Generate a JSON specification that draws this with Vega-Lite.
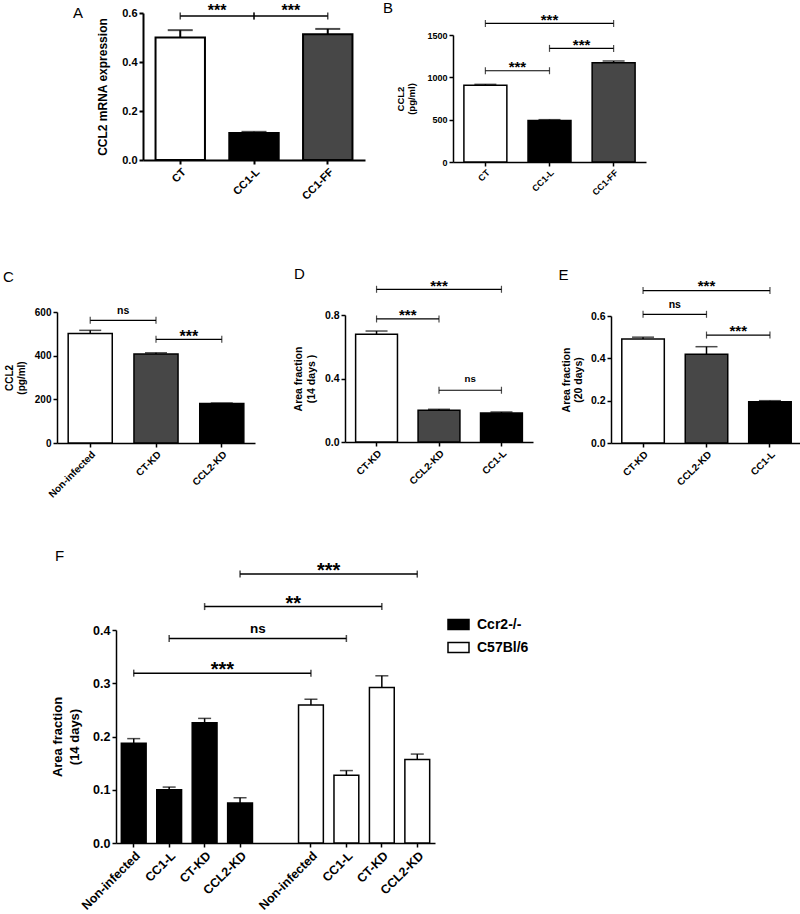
{
  "$schema": "https://vega.github.io/schema/vega-lite/v6.json",
  "padding": {"left": 3, "top": 0, "right": 0, "bottom": 0},
  "background": "white",
  "datasets": {
    "A": [
      {"cond": "CT", "mean": 0.5, "upper": 0.53},
      {"cond": "CC1-L", "mean": 0.11, "upper": 0.115},
      {"cond": "CC1-FF", "mean": 0.513, "upper": 0.535}
    ],
    "Asig": [
      {"from": "CT", "to": "CC1-L", "y": 0.588, "label": "***", "span": 1},
      {"from": "CC1-L", "to": "CC1-FF", "y": 0.588, "label": "***", "span": 1}
    ],
    "B": [
      {"cond": "CT", "mean": 907, "upper": 917},
      {"cond": "CC1-L", "mean": 490, "upper": 500},
      {"cond": "CC1-FF", "mean": 1173, "upper": 1193}
    ],
    "Bsig": [
      {"from": "CT", "to": "CC1-L", "y": 1078, "label": "***", "span": 1},
      {"from": "CC1-L", "to": "CC1-FF", "y": 1342, "label": "***", "span": 1},
      {"from": "CT", "to": "CC1-FF", "y": 1637, "label": "***", "span": 2}
    ],
    "C": [
      {"cond": "Non-infected", "mean": 502, "upper": 516},
      {"cond": "CT-KD", "mean": 408, "upper": 413},
      {"cond": "CCL2-KD", "mean": 181, "upper": 183}
    ],
    "Csig": [
      {"from": "Non-infected", "to": "CT-KD", "y": 562, "label": "ns", "span": 1},
      {"from": "CT-KD", "to": "CCL2-KD", "y": 475, "label": "***", "span": 1}
    ],
    "D": [
      {"cond": "CT-KD", "mean": 0.678, "upper": 0.699},
      {"cond": "CCL2-KD", "mean": 0.2, "upper": 0.206},
      {"cond": "CC1-L", "mean": 0.183, "upper": 0.189}
    ],
    "Dsig": [
      {"from": "CT-KD", "to": "CCL2-KD", "y": 0.775, "label": "***", "span": 1},
      {"from": "CCL2-KD", "to": "CC1-L", "y": 0.326, "label": "ns", "span": 1},
      {"from": "CT-KD", "to": "CC1-L", "y": 0.962, "label": "***", "span": 2}
    ],
    "E": [
      {"cond": "CT-KD", "mean": 0.491, "upper": 0.5},
      {"cond": "CCL2-KD", "mean": 0.419, "upper": 0.455},
      {"cond": "CC1-L", "mean": 0.195, "upper": 0.2}
    ],
    "Esig": [
      {"from": "CT-KD", "to": "CCL2-KD", "y": 0.608, "label": "ns", "span": 1},
      {"from": "CCL2-KD", "to": "CC1-L", "y": 0.51, "label": "***", "span": 1},
      {"from": "CT-KD", "to": "CC1-L", "y": 0.72, "label": "***", "span": 2}
    ],
    "F": [
      {"slot": "Ccr2-/-|Non-infected", "strain": "Ccr2-/-", "mean": 0.1875, "upper": 0.196},
      {"slot": "Ccr2-/-|CC1-L", "strain": "Ccr2-/-", "mean": 0.1, "upper": 0.105},
      {"slot": "Ccr2-/-|CT-KD", "strain": "Ccr2-/-", "mean": 0.2257, "upper": 0.234},
      {"slot": "Ccr2-/-|CCL2-KD", "strain": "Ccr2-/-", "mean": 0.0752, "upper": 0.085},
      {"slot": "C57Bl/6|Non-infected", "strain": "C57Bl/6", "mean": 0.259, "upper": 0.27},
      {"slot": "C57Bl/6|CC1-L", "strain": "C57Bl/6", "mean": 0.127, "upper": 0.136},
      {"slot": "C57Bl/6|CT-KD", "strain": "C57Bl/6", "mean": 0.292, "upper": 0.314},
      {"slot": "C57Bl/6|CCL2-KD", "strain": "C57Bl/6", "mean": 0.157, "upper": 0.167}
    ],
    "Fsig": [
      {"from": "Ccr2-/-|Non-infected", "to": "C57Bl/6|Non-infected", "y": 0.319, "label": "***", "span": 5},
      {"from": "Ccr2-/-|CC1-L", "to": "C57Bl/6|CC1-L", "y": 0.384, "label": "ns", "span": 5},
      {"from": "Ccr2-/-|CT-KD", "to": "C57Bl/6|CT-KD", "y": 0.444, "label": "**", "span": 5},
      {"from": "Ccr2-/-|CCL2-KD", "to": "C57Bl/6|CCL2-KD", "y": 0.505, "label": "***", "span": 5}
    ]
  },
  "bounds": "full",
  "align": "none",
  "spacing": 0,
  "resolve": {"scale": {"fill": "independent"}},
  "vconcat": [
    {
      "bounds": "flush",
      "spacing": 0,
      "resolve": {"scale": {"fill": "independent"}},
      "hconcat": [
        {"width": 86, "height": 1, "data": {"values": []}, "mark": "point", "encoding": {}},
        {
          "width": 222, "height": 147,
          "title": {"text": "A", "anchor": "start", "frame": "group", "offset": 0, "dx": -70, "dy": 30.4, "fontSize": 15, "baseline": "alphabetic"},
          "layer": [
            {"data": {"name": "A"}, "mark": {"type": "bar", "stroke": "black", "strokeWidth": 2},
             "encoding": {
               "x": {"field": "cond", "type": "nominal", "sort": null, "scale": {"domain": ["CT", "CC1-L", "CC1-FF"], "paddingInner": 0.33, "paddingOuter": 0.17}, "axis": {"title": null, "labelFontSize": 11, "labelAngle": -45, "domainWidth": 2, "tickWidth": 2}},
               "y": {"field": "mean", "type": "quantitative", "scale": {"domain": [0, 0.6], "nice": false}, "axis": {"title": "CCL2 mRNA expression", "values": [0, 0.2, 0.4, 0.6], "format": ".1f", "labelFontSize": 11, "titleFontSize": 12, "titlePadding": 12, "domainWidth": 2, "tickWidth": 2}},
               "fill": {"field": "cond", "type": "nominal", "scale": {"domain": ["CT", "CC1-L", "CC1-FF"], "range": ["white", "black", "#474747"]}, "legend": null}
             }},
            {"data": {"name": "A"}, "mark": {"type": "rule", "color": "black", "strokeWidth": 2},
             "encoding": {"x": {"field": "cond", "type": "nominal"}, "y": {"field": "mean", "type": "quantitative", "scale": {"domain": [0, 0.6], "nice": false}}, "y2": {"field": "upper"}}},
            {"data": {"name": "A"}, "mark": {"type": "tick", "color": "black", "thickness": 2, "size": 25, "orient": "horizontal"},
             "encoding": {"x": {"field": "cond", "type": "nominal"}, "y": {"field": "upper", "type": "quantitative", "scale": {"domain": [0, 0.6], "nice": false}}}},
            {"data": {"name": "Asig"}, "mark": {"type": "rule", "color": "black", "strokeWidth": 1.5},
             "encoding": {"x": {"field": "from", "type": "nominal", "bandPosition": 0.5}, "x2": {"field": "to", "bandPosition": 0.5}, "y": {"field": "y", "type": "quantitative", "scale": {"domain": [0, 0.6], "nice": false}}}},
            {"data": {"name": "Asig"}, "mark": {"type": "tick", "color": "black", "thickness": 1.5, "size": 7, "orient": "vertical"},
             "encoding": {"x": {"field": "from", "type": "nominal"}, "y": {"field": "y", "type": "quantitative", "scale": {"domain": [0, 0.6], "nice": false}}}},
            {"data": {"name": "Asig"}, "mark": {"type": "tick", "color": "black", "thickness": 1.5, "size": 7, "orient": "vertical"},
             "encoding": {"x": {"field": "to", "type": "nominal"}, "y": {"field": "y", "type": "quantitative", "scale": {"domain": [0, 0.6], "nice": false}}}},
            {"data": {"name": "Asig"}, "transform": [{"filter": "datum.span == 1"}], "mark": {"type": "text", "fontWeight": "bold", "fontSize": 16, "baseline": "alphabetic", "dy": 0},
             "encoding": {"x": {"field": "from", "type": "nominal", "bandPosition": 1.246}, "y": {"field": "y", "type": "quantitative", "scale": {"domain": [0, 0.6], "nice": false}}, "text": {"field": "label"}}}
          ]
        },
        {"width": 88, "height": 1, "data": {"values": []}, "mark": "point", "encoding": {}},
        {
          "bounds": "flush",
          "spacing": 0,
          "vconcat": [
            {"width": 193, "height": 22, "data": {"values": []}, "mark": "point", "encoding": {}},
            {
              "width": 193, "height": 127,
              "title": {"text": "B", "anchor": "start", "frame": "group", "offset": 0, "dx": -70, "dy": 14.7, "fontSize": 15, "baseline": "alphabetic"},
              "layer": [
                {"data": {"name": "B"}, "mark": {"type": "bar", "stroke": "black", "strokeWidth": 1.5},
                 "encoding": {
                   "x": {"field": "cond", "type": "nominal", "sort": null, "scale": {"domain": ["CT", "CC1-L", "CC1-FF"], "paddingInner": 0.33, "paddingOuter": 0.17}, "axis": {"title": null, "labelFontSize": 9, "labelAngle": -45}},
                   "y": {"field": "mean", "type": "quantitative", "scale": {"domain": [0, 1500], "nice": false}, "axis": {"title": ["CCL2", "(pg/ml)"], "values": [0, 500, 1000, 1500], "format": "d", "labelFontSize": 9, "titleFontSize": 9.5, "titleLineHeight": 11.5, "titlePadding": 10}},
                   "fill": {"field": "cond", "type": "nominal", "scale": {"domain": ["CT", "CC1-L", "CC1-FF"], "range": ["white", "black", "#474747"]}, "legend": null}
                 }},
                {"data": {"name": "B"}, "mark": {"type": "rule", "color": "black", "strokeWidth": 1.5},
                 "encoding": {"x": {"field": "cond", "type": "nominal"}, "y": {"field": "mean", "type": "quantitative", "scale": {"domain": [0, 1500], "nice": false}}, "y2": {"field": "upper"}}},
                {"data": {"name": "B"}, "mark": {"type": "tick", "color": "black", "thickness": 1.5, "size": 22, "orient": "horizontal"},
                 "encoding": {"x": {"field": "cond", "type": "nominal"}, "y": {"field": "upper", "type": "quantitative", "scale": {"domain": [0, 1500], "nice": false}}}},
                {"data": {"name": "Bsig"}, "mark": {"type": "rule", "color": "black", "strokeWidth": 1.2},
                 "encoding": {"x": {"field": "from", "type": "nominal", "bandPosition": 0.5}, "x2": {"field": "to", "bandPosition": 0.5}, "y": {"field": "y", "type": "quantitative", "scale": {"domain": [0, 1500], "nice": false}}}},
                {"data": {"name": "Bsig"}, "mark": {"type": "tick", "color": "black", "thickness": 1.2, "size": 7, "orient": "vertical"},
                 "encoding": {"x": {"field": "from", "type": "nominal"}, "y": {"field": "y", "type": "quantitative", "scale": {"domain": [0, 1500], "nice": false}}}},
                {"data": {"name": "Bsig"}, "mark": {"type": "tick", "color": "black", "thickness": 1.2, "size": 7, "orient": "vertical"},
                 "encoding": {"x": {"field": "to", "type": "nominal"}, "y": {"field": "y", "type": "quantitative", "scale": {"domain": [0, 1500], "nice": false}}}},
                {"data": {"name": "Bsig"}, "transform": [{"filter": "datum.span == 1"}], "mark": {"type": "text", "fontWeight": "bold", "fontSize": 15, "baseline": "alphabetic", "dy": 1.5},
                 "encoding": {"x": {"field": "from", "type": "nominal", "bandPosition": 1.246}, "y": {"field": "y", "type": "quantitative", "scale": {"domain": [0, 1500], "nice": false}}, "text": {"field": "label"}}},
                {"data": {"name": "Bsig"}, "transform": [{"filter": "datum.span == 2"}], "mark": {"type": "text", "fontWeight": "bold", "fontSize": 15, "baseline": "alphabetic", "dy": 1.5},
                 "encoding": {"x": {"field": "from", "type": "nominal", "bandPosition": 1.9925}, "y": {"field": "y", "type": "quantitative", "scale": {"domain": [0, 1500], "nice": false}}, "text": {"field": "label"}}}
              ]
            }
          ]
        }
      ]
    },
    {"width": 10, "height": 64, "data": {"values": []}, "mark": "point", "encoding": {}},
    {
      "bounds": "flush",
      "spacing": 0,
      "resolve": {"scale": {"fill": "independent"}},
      "hconcat": [
        {
          "width": 198, "height": 131,
          "title": {"text": "C", "anchor": "start", "frame": "group", "offset": 0, "dx": -54, "dy": -9, "fontSize": 15, "baseline": "alphabetic"},
          "layer": [
            {"data": {"name": "C"}, "mark": {"type": "bar", "stroke": "black", "strokeWidth": 1.5},
             "encoding": {
               "x": {"field": "cond", "type": "nominal", "sort": null, "scale": {"domain": ["Non-infected", "CT-KD", "CCL2-KD"], "paddingInner": 0.33, "paddingOuter": 0.17}, "axis": {"title": null, "labelFontSize": 10, "labelAngle": -45}},
               "y": {"field": "mean", "type": "quantitative", "scale": {"domain": [0, 600], "nice": false}, "axis": {"title": ["CCL2", "(pg/ml)"], "values": [0, 200, 400, 600], "format": "d", "labelFontSize": 10, "titleFontSize": 10, "titleLineHeight": 11.5, "titlePadding": 8}},
               "fill": {"field": "cond", "type": "nominal", "scale": {"domain": ["Non-infected", "CT-KD", "CCL2-KD"], "range": ["white", "#474747", "black"]}, "legend": null}
             }},
            {"data": {"name": "C"}, "mark": {"type": "rule", "color": "black", "strokeWidth": 1.5},
             "encoding": {"x": {"field": "cond", "type": "nominal"}, "y": {"field": "mean", "type": "quantitative", "scale": {"domain": [0, 600], "nice": false}}, "y2": {"field": "upper"}}},
            {"data": {"name": "C"}, "mark": {"type": "tick", "color": "black", "thickness": 1.5, "size": 22, "orient": "horizontal"},
             "encoding": {"x": {"field": "cond", "type": "nominal"}, "y": {"field": "upper", "type": "quantitative", "scale": {"domain": [0, 600], "nice": false}}}},
            {"data": {"name": "Csig"}, "mark": {"type": "rule", "color": "black", "strokeWidth": 1.2},
             "encoding": {"x": {"field": "from", "type": "nominal", "bandPosition": 0.5}, "x2": {"field": "to", "bandPosition": 0.5}, "y": {"field": "y", "type": "quantitative", "scale": {"domain": [0, 600], "nice": false}}}},
            {"data": {"name": "Csig"}, "mark": {"type": "tick", "color": "black", "thickness": 1.2, "size": 7, "orient": "vertical"},
             "encoding": {"x": {"field": "from", "type": "nominal"}, "y": {"field": "y", "type": "quantitative", "scale": {"domain": [0, 600], "nice": false}}}},
            {"data": {"name": "Csig"}, "mark": {"type": "tick", "color": "black", "thickness": 1.2, "size": 7, "orient": "vertical"},
             "encoding": {"x": {"field": "to", "type": "nominal"}, "y": {"field": "y", "type": "quantitative", "scale": {"domain": [0, 600], "nice": false}}}},
            {"data": {"name": "Csig"}, "transform": [{"filter": "datum.label != 'ns'"}], "mark": {"type": "text", "fontWeight": "bold", "fontSize": 16, "baseline": "alphabetic", "dy": 2.5},
             "encoding": {"x": {"field": "from", "type": "nominal", "bandPosition": 1.246}, "y": {"field": "y", "type": "quantitative", "scale": {"domain": [0, 600], "nice": false}}, "text": {"field": "label"}}},
            {"data": {"name": "Csig"}, "transform": [{"filter": "datum.label == 'ns'"}], "mark": {"type": "text", "fontWeight": "bold", "fontSize": 10.5, "baseline": "alphabetic", "dy": -6},
             "encoding": {"x": {"field": "from", "type": "nominal", "bandPosition": 1.246}, "y": {"field": "y", "type": "quantitative", "scale": {"domain": [0, 600], "nice": false}}, "text": {"field": "label"}}}
          ]
        },
        {"width": 90, "height": 1, "data": {"values": []}, "mark": "point", "encoding": {}},
        {
          "bounds": "flush",
          "spacing": 0,
          "vconcat": [
            {"width": 188, "height": 3, "data": {"values": []}, "mark": "point", "encoding": {}},
            {
              "width": 188, "height": 127,
              "title": {"text": "D", "anchor": "start", "frame": "group", "offset": 0, "dx": -51, "dy": 15, "fontSize": 15, "baseline": "alphabetic"},
              "layer": [
                {"data": {"name": "D"}, "mark": {"type": "bar", "stroke": "black", "strokeWidth": 1.5},
                 "encoding": {
                   "x": {"field": "cond", "type": "nominal", "sort": null, "scale": {"domain": ["CT-KD", "CCL2-KD", "CC1-L"], "paddingInner": 0.33, "paddingOuter": 0.17}, "axis": {"title": null, "labelFontSize": 10, "labelAngle": -45}},
                   "y": {"field": "mean", "type": "quantitative", "scale": {"domain": [0, 0.8], "nice": false}, "axis": {"title": ["Area fraction", "(14 days )"], "values": [0, 0.2, 0.4, 0.6, 0.8], "format": ".1f", "labelFontSize": 10.5, "titleFontSize": 10.5, "titleLineHeight": 12.5, "titlePadding": 8}},
                   "fill": {"field": "cond", "type": "nominal", "scale": {"domain": ["CT-KD", "CCL2-KD", "CC1-L"], "range": ["white", "#474747", "black"]}, "legend": null}
                 }},
                {"data": {"name": "D"}, "mark": {"type": "rule", "color": "black", "strokeWidth": 1.5},
                 "encoding": {"x": {"field": "cond", "type": "nominal"}, "y": {"field": "mean", "type": "quantitative", "scale": {"domain": [0, 0.8], "nice": false}}, "y2": {"field": "upper"}}},
                {"data": {"name": "D"}, "mark": {"type": "tick", "color": "black", "thickness": 1.5, "size": 22, "orient": "horizontal"},
                 "encoding": {"x": {"field": "cond", "type": "nominal"}, "y": {"field": "upper", "type": "quantitative", "scale": {"domain": [0, 0.8], "nice": false}}}},
                {"data": {"name": "Dsig"}, "mark": {"type": "rule", "color": "black", "strokeWidth": 1.2},
                 "encoding": {"x": {"field": "from", "type": "nominal", "bandPosition": 0.5}, "x2": {"field": "to", "bandPosition": 0.5}, "y": {"field": "y", "type": "quantitative", "scale": {"domain": [0, 0.8], "nice": false}}}},
                {"data": {"name": "Dsig"}, "mark": {"type": "tick", "color": "black", "thickness": 1.2, "size": 7, "orient": "vertical"},
                 "encoding": {"x": {"field": "from", "type": "nominal"}, "y": {"field": "y", "type": "quantitative", "scale": {"domain": [0, 0.8], "nice": false}}}},
                {"data": {"name": "Dsig"}, "mark": {"type": "tick", "color": "black", "thickness": 1.2, "size": 7, "orient": "vertical"},
                 "encoding": {"x": {"field": "to", "type": "nominal"}, "y": {"field": "y", "type": "quantitative", "scale": {"domain": [0, 0.8], "nice": false}}}},
                {"data": {"name": "Dsig"}, "transform": [{"filter": "datum.label != 'ns' && datum.span == 1"}], "mark": {"type": "text", "fontWeight": "bold", "fontSize": 15, "baseline": "alphabetic", "dy": 1.5},
                 "encoding": {"x": {"field": "from", "type": "nominal", "bandPosition": 1.246}, "y": {"field": "y", "type": "quantitative", "scale": {"domain": [0, 0.8], "nice": false}}, "text": {"field": "label"}}},
                {"data": {"name": "Dsig"}, "transform": [{"filter": "datum.label != 'ns' && datum.span == 2"}], "mark": {"type": "text", "fontWeight": "bold", "fontSize": 15, "baseline": "alphabetic", "dy": 1.5},
                 "encoding": {"x": {"field": "from", "type": "nominal", "bandPosition": 1.9925}, "y": {"field": "y", "type": "quantitative", "scale": {"domain": [0, 0.8], "nice": false}}, "text": {"field": "label"}}},
                {"data": {"name": "Dsig"}, "transform": [{"filter": "datum.label == 'ns'"}], "mark": {"type": "text", "fontWeight": "bold", "fontSize": 9.7, "baseline": "alphabetic", "dy": -8.5},
                 "encoding": {"x": {"field": "from", "type": "nominal", "bandPosition": 1.246}, "y": {"field": "y", "type": "quantitative", "scale": {"domain": [0, 0.8], "nice": false}}, "text": {"field": "label"}}}
              ]
            }
          ]
        },
        {"width": 266, "height": 1, "data": {"values": []}, "mark": "point", "encoding": {}},
        {
          "bounds": "flush",
          "spacing": 0,
          "vconcat": [
            {"width": 191, "height": 3.3, "data": {"values": []}, "mark": "point", "encoding": {}},
            {
              "width": 191, "height": 127,
              "title": {"text": "E", "anchor": "start", "frame": "group", "offset": 0, "dx": -52.6, "dy": 15.5, "fontSize": 15, "baseline": "alphabetic"},
              "layer": [
                {"data": {"name": "E"}, "mark": {"type": "bar", "stroke": "black", "strokeWidth": 1.5},
                 "encoding": {
                   "x": {"field": "cond", "type": "nominal", "sort": null, "scale": {"domain": ["CT-KD", "CCL2-KD", "CC1-L"], "paddingInner": 0.33, "paddingOuter": 0.17}, "axis": {"title": null, "labelFontSize": 10, "labelAngle": -45}},
                   "y": {"field": "mean", "type": "quantitative", "scale": {"domain": [0, 0.6], "nice": false}, "axis": {"title": ["Area fraction", "(20 days)"], "values": [0, 0.2, 0.4, 0.6], "format": ".1f", "labelFontSize": 10.5, "titleFontSize": 10.5, "titleLineHeight": 12, "titlePadding": 7}},
                   "fill": {"field": "cond", "type": "nominal", "scale": {"domain": ["CT-KD", "CCL2-KD", "CC1-L"], "range": ["white", "#474747", "black"]}, "legend": null}
                 }},
                {"data": {"name": "E"}, "mark": {"type": "rule", "color": "black", "strokeWidth": 1.5},
                 "encoding": {"x": {"field": "cond", "type": "nominal"}, "y": {"field": "mean", "type": "quantitative", "scale": {"domain": [0, 0.6], "nice": false}}, "y2": {"field": "upper"}}},
                {"data": {"name": "E"}, "mark": {"type": "tick", "color": "black", "thickness": 1.5, "size": 22, "orient": "horizontal"},
                 "encoding": {"x": {"field": "cond", "type": "nominal"}, "y": {"field": "upper", "type": "quantitative", "scale": {"domain": [0, 0.6], "nice": false}}}},
                {"data": {"name": "Esig"}, "mark": {"type": "rule", "color": "black", "strokeWidth": 1.2},
                 "encoding": {"x": {"field": "from", "type": "nominal", "bandPosition": 0.5}, "x2": {"field": "to", "bandPosition": 0.5}, "y": {"field": "y", "type": "quantitative", "scale": {"domain": [0, 0.6], "nice": false}}}},
                {"data": {"name": "Esig"}, "mark": {"type": "tick", "color": "black", "thickness": 1.2, "size": 7, "orient": "vertical"},
                 "encoding": {"x": {"field": "from", "type": "nominal"}, "y": {"field": "y", "type": "quantitative", "scale": {"domain": [0, 0.6], "nice": false}}}},
                {"data": {"name": "Esig"}, "mark": {"type": "tick", "color": "black", "thickness": 1.2, "size": 7, "orient": "vertical"},
                 "encoding": {"x": {"field": "to", "type": "nominal"}, "y": {"field": "y", "type": "quantitative", "scale": {"domain": [0, 0.6], "nice": false}}}},
                {"data": {"name": "Esig"}, "transform": [{"filter": "datum.label != 'ns' && datum.span == 1"}], "mark": {"type": "text", "fontWeight": "bold", "fontSize": 15, "baseline": "alphabetic", "dy": 0.5},
                 "encoding": {"x": {"field": "from", "type": "nominal", "bandPosition": 1.246}, "y": {"field": "y", "type": "quantitative", "scale": {"domain": [0, 0.6], "nice": false}}, "text": {"field": "label"}}},
                {"data": {"name": "Esig"}, "transform": [{"filter": "datum.label != 'ns' && datum.span == 2"}], "mark": {"type": "text", "fontWeight": "bold", "fontSize": 15, "baseline": "alphabetic", "dy": 0.5},
                 "encoding": {"x": {"field": "from", "type": "nominal", "bandPosition": 1.9925}, "y": {"field": "y", "type": "quantitative", "scale": {"domain": [0, 0.6], "nice": false}}, "text": {"field": "label"}}},
                {"data": {"name": "Esig"}, "transform": [{"filter": "datum.label == 'ns'"}], "mark": {"type": "text", "fontWeight": "bold", "fontSize": 10.5, "baseline": "alphabetic", "dy": -6},
                 "encoding": {"x": {"field": "from", "type": "nominal", "bandPosition": 1.246}, "y": {"field": "y", "type": "quantitative", "scale": {"domain": [0, 0.6], "nice": false}}, "text": {"field": "label"}}}
              ]
            }
          ]
        }
      ]
    },
    {"width": 10, "height": 48, "data": {"values": []}, "mark": "point", "encoding": {}},
    {
      "bounds": "flush",
      "spacing": 0,
      "hconcat": [
        {"width": 59, "height": 1, "data": {"values": []}, "mark": "point", "encoding": {}},
        {
          "width": 319, "height": 213,
          "title": {"text": "F", "anchor": "start", "frame": "group", "offset": 0, "dx": -61, "dy": 14.7, "fontSize": 15, "baseline": "alphabetic"},
          "layer": [
            {"data": {"name": "F"}, "mark": {"type": "bar", "stroke": "black", "strokeWidth": 1.5},
             "encoding": {
               "x": {"field": "slot", "type": "nominal", "sort": null, "scale": {"domain": ["Ccr2-/-|Non-infected", "Ccr2-/-|CC1-L", "Ccr2-/-|CT-KD", "Ccr2-/-|CCL2-KD", "gap", "C57Bl/6|Non-infected", "C57Bl/6|CC1-L", "C57Bl/6|CT-KD", "C57Bl/6|CCL2-KD"], "paddingInner": 0.3, "paddingOuter": 0.15}, "axis": {"title": null, "labelFontSize": 12.5, "labelAngle": -45, "values": ["Ccr2-/-|Non-infected", "Ccr2-/-|CC1-L", "Ccr2-/-|CT-KD", "Ccr2-/-|CCL2-KD", "C57Bl/6|Non-infected", "C57Bl/6|CC1-L", "C57Bl/6|CT-KD", "C57Bl/6|CCL2-KD"], "labelExpr": "split(datum.label, '|')[1]"}},
               "y": {"field": "mean", "type": "quantitative", "scale": {"domain": [0, 0.4], "nice": false}, "axis": {"title": ["Area fraction", "(14 days)"], "values": [0, 0.1, 0.2, 0.3, 0.4], "format": ".1f", "labelFontSize": 12.5, "titleFontSize": 13, "titleLineHeight": 17, "titlePadding": 11}},
               "fill": {"field": "strain", "type": "nominal", "scale": {"domain": ["Ccr2-/-", "C57Bl/6"], "range": ["black", "white"]},
                        "legend": {"title": null, "orient": "none", "legendX": 390, "legendY": -17, "padding": 0, "symbolType": "M-1,-0.476H1V0.476H-1Z", "symbolSize": 441, "symbolStrokeColor": "black", "symbolStrokeWidth": 1.5, "labelFontSize": 14, "labelFontWeight": "bold", "labelFont": "Liberation Sans", "labelColor": "black", "labelOffset": 7, "rowPadding": 3}}
             }},
            {"data": {"name": "F"}, "mark": {"type": "rule", "color": "black", "strokeWidth": 1.5},
             "encoding": {"x": {"field": "slot", "type": "nominal"}, "y": {"field": "mean", "type": "quantitative", "scale": {"domain": [0, 0.4], "nice": false}}, "y2": {"field": "upper"}}},
            {"data": {"name": "F"}, "mark": {"type": "tick", "color": "black", "thickness": 1.5, "size": 13, "orient": "horizontal"},
             "encoding": {"x": {"field": "slot", "type": "nominal"}, "y": {"field": "upper", "type": "quantitative", "scale": {"domain": [0, 0.4], "nice": false}}}},
            {"data": {"name": "Fsig"}, "mark": {"type": "rule", "color": "black", "strokeWidth": 1.5},
             "encoding": {"x": {"field": "from", "type": "nominal", "bandPosition": 0.5}, "x2": {"field": "to", "bandPosition": 0.5}, "y": {"field": "y", "type": "quantitative", "scale": {"domain": [0, 0.4], "nice": false}}}},
            {"data": {"name": "Fsig"}, "mark": {"type": "tick", "color": "black", "thickness": 1.5, "size": 7, "orient": "vertical"},
             "encoding": {"x": {"field": "from", "type": "nominal"}, "y": {"field": "y", "type": "quantitative", "scale": {"domain": [0, 0.4], "nice": false}}}},
            {"data": {"name": "Fsig"}, "mark": {"type": "tick", "color": "black", "thickness": 1.5, "size": 7, "orient": "vertical"},
             "encoding": {"x": {"field": "to", "type": "nominal"}, "y": {"field": "y", "type": "quantitative", "scale": {"domain": [0, 0.4], "nice": false}}}},
            {"data": {"name": "Fsig"}, "transform": [{"filter": "datum.label != 'ns'"}], "mark": {"type": "text", "fontWeight": "bold", "fontSize": 20, "baseline": "alphabetic", "dy": 3},
             "encoding": {"x": {"field": "from", "type": "nominal", "bandPosition": 4.0714}, "y": {"field": "y", "type": "quantitative", "scale": {"domain": [0, 0.4], "nice": false}}, "text": {"field": "label"}}},
            {"data": {"name": "Fsig"}, "transform": [{"filter": "datum.label == 'ns'"}], "mark": {"type": "text", "fontWeight": "bold", "fontSize": 13.5, "baseline": "alphabetic", "dy": -6},
             "encoding": {"x": {"field": "from", "type": "nominal", "bandPosition": 4.0714}, "y": {"field": "y", "type": "quantitative", "scale": {"domain": [0, 0.4], "nice": false}}, "text": {"field": "label"}}}
          ]
        }
      ]
    }
  ],
  "config": {
    "view": {"stroke": null},
    "font": "Liberation Sans",
    "text": {"font": "Liberation Sans", "color": "black"},
    "title": {"font": "Liberation Sans", "fontWeight": "normal", "color": "black"},
    "axis": {"grid": false, "domainColor": "black", "tickColor": "black", "labelColor": "black", "titleColor": "black", "labelFont": "Liberation Sans", "titleFont": "Liberation Sans", "labelFontWeight": "bold", "titleFontWeight": "bold", "domainWidth": 1.5, "tickWidth": 1.5, "tickSize": 4, "labelPadding": 2}
  }
}
